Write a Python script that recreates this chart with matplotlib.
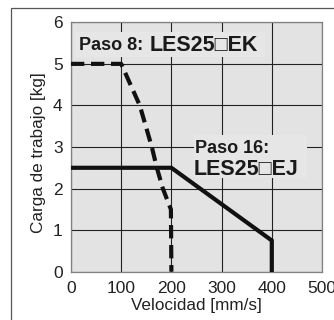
import matplotlib
matplotlib.use("Agg")
import matplotlib.pyplot as plt
from matplotlib.patches import Rectangle

plt.rcParams['font.family'] = ['Liberation Sans', 'DejaVu Sans']

# Data
step8_speed = [0, 100, 137, 161, 171, 183, 199, 200]
step8_load = [5, 5, 4, 3, 2.5, 2, 1.5, 0]
step16_speed = [0, 200, 400, 400]
step16_load = [2.5, 2.5, 0.75, 0]
x_ticks = [0, 100, 200, 300, 400, 500]
y_ticks = [0, 1, 2, 3, 4, 5, 6]
label8_a, label8_b = "Paso 8:", "LES25\u25a1EK"
label16_a, label16_b = "Paso 16:", "LES25\u25a1EJ"

W, H = 334, 320
fig = plt.figure(figsize=(W / 100, H / 100), dpi=100)
fig.patch.set_facecolor('white')

# outer border
fig.patches.append(Rectangle((11 / W, -0.1), 1.2, 1 - 8 / H + 0.1, transform=fig.transFigure,
                             fill=False, edgecolor='#555555', linewidth=0.9, clip_on=False))

ax = fig.add_axes([71 / W, 1 - 271.7 / H, 251 / W, (271.7 - 22.3) / H])
ax.set_facecolor('#e3e3e3')
ax.set_xlim(0, 500)
ax.set_ylim(0, 6)
ax.set_xticks(x_ticks)
ax.set_yticks(y_ticks)
ax.grid(True, color='#222222', linewidth=0.8)
ax.set_axisbelow(True)
for s in ax.spines.values():
    s.set_color('#808080')
    s.set_linewidth(0.9)
ax.tick_params(length=0, labelsize=12.5, colors='#222222')
ax.tick_params(axis='y', pad=6)
ax.tick_params(axis='x', pad=7)

ax.set_xlabel("Velocidad [mm/s]", fontsize=12.3, color='#222222', labelpad=1)
ax.set_ylabel("Carga de trabajo [kg]", fontsize=12.3, color='#222222')
ax.yaxis.set_label_coords(-0.1, 0.476)

ax.plot(step16_speed, step16_load, color='#111111', linewidth=3.0, solid_joinstyle='miter', zorder=3)
ax.plot(step8_speed, step8_load, color='#111111', linewidth=3.0, linestyle=(0, (3.2, 1.6)), zorder=3)

bg = '#e6e6e6'
ax.add_patch(Rectangle((8, 5.17), 378, 0.6, facecolor=bg, edgecolor='none', zorder=2))
ax.add_patch(Rectangle((245, 2.26), 225, 1.03, facecolor=bg, edgecolor='none', zorder=2))

ax.text(16, 5.45, label8_a, fontsize=13, fontweight='bold', color='#1a1a1a', va='center', ha='left', zorder=4)
ax.text(156, 5.45, label8_b, fontsize=15.5, fontweight='bold', color='#1a1a1a', va='center', ha='left', zorder=4)
ax.text(247, 2.97, label16_a, fontsize=13, fontweight='bold', color='#1a1a1a', va='center', ha='left', zorder=4)
ax.text(245, 2.47, label16_b, fontsize=15.5, fontweight='bold', color='#1a1a1a', va='center', ha='left', zorder=4)

fig.savefig("out.png", dpi=100)
